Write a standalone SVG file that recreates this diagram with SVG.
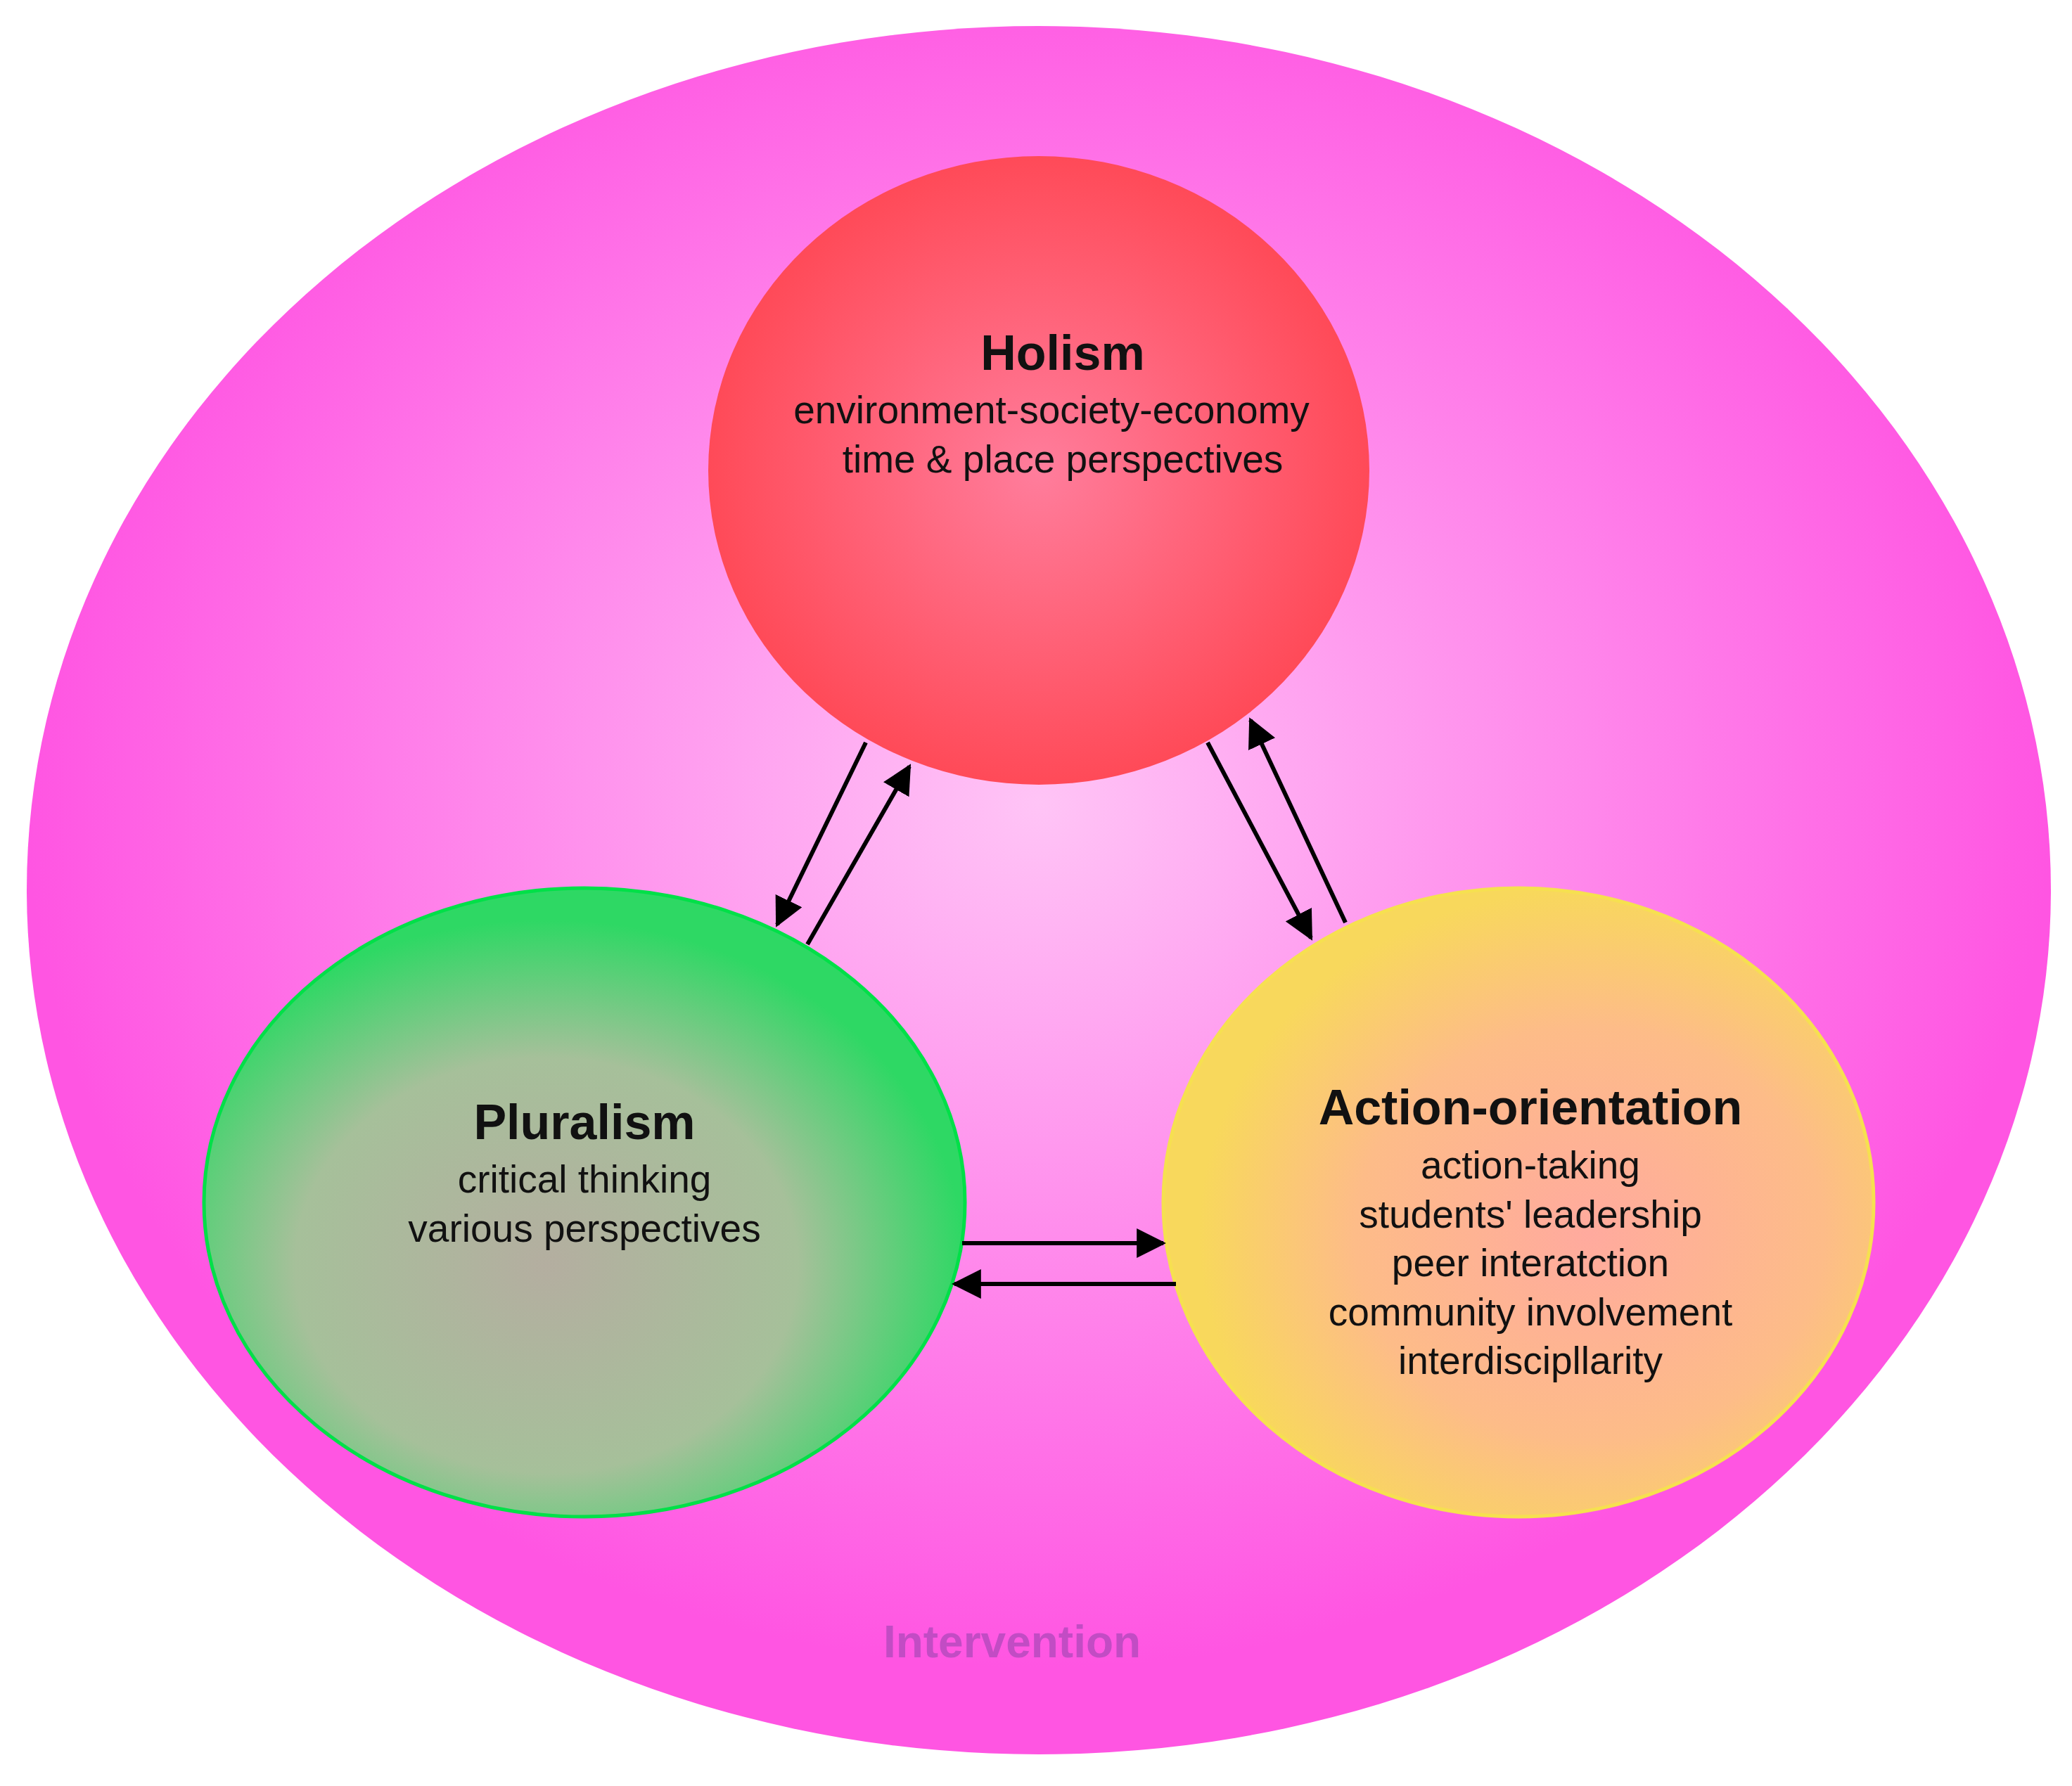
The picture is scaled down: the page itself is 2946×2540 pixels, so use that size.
<svg xmlns="http://www.w3.org/2000/svg" width="2946" height="2540" viewBox="0 0 2946 2540">
<defs>
<radialGradient id="gOut" cx="0.5" cy="0.45" r="0.5"><stop offset="0" stop-color="#ffc4f6"/><stop offset="1" stop-color="#ff55e2"/></radialGradient>
<radialGradient id="gHol" cx="0.5" cy="0.5" r="0.5"><stop offset="0" stop-color="#ff7d9c"/><stop offset="1" stop-color="#ff4a58"/></radialGradient>
<radialGradient id="gPlu" cx="0.45" cy="0.6" r="0.55"><stop offset="0" stop-color="#b4aea0"/><stop offset="0.6" stop-color="#a6c09a"/><stop offset="1" stop-color="#2ed864"/></radialGradient>
<radialGradient id="gAct" cx="0.6" cy="0.55" r="0.55"><stop offset="0" stop-color="#ffaa9e"/><stop offset="0.6" stop-color="#fdbc88"/><stop offset="1" stop-color="#f8d85c"/></radialGradient>
<marker id="ah" viewBox="0 0 10 10" refX="9" refY="5" markerWidth="7" markerHeight="7" orient="auto" markerUnits="strokeWidth"><path d="M0,0 L10,5 L0,10 z" fill="#000"/></marker>
<style>
.t{font-family:"Liberation Sans",Arial,sans-serif;text-anchor:middle;fill:#111}
.h{font-size:70px;font-weight:bold}
.s{font-size:55px}
.c{stroke:#000;stroke-width:6;fill:none;marker-end:url(#ah)}
</style>
</defs>
<rect width="2946" height="2540" fill="#fff"/>
<g id="intervention">
<ellipse cx="1477" cy="1266" rx="1439" ry="1229" fill="url(#gOut)"/>
<text class="t" x="1439" y="2357" style="font-size:64px;font-weight:bold;fill:#c24cc4">Intervention</text>
</g>
<g id="holism">
<ellipse cx="1477" cy="669" rx="470" ry="447" fill="url(#gHol)"/>
<text class="t h" x="1511" y="526">Holism</text>
<text class="t s" x="1495" y="602">environment-society-economy</text>
<text class="t s" x="1511" y="672">time &amp; place perspectives</text>
</g>
<g id="pluralism">
<ellipse cx="831" cy="1710" rx="541" ry="447" fill="url(#gPlu)" stroke="#00e048" stroke-width="5"/>
<text class="t h" x="831" y="1620">Pluralism</text>
<text class="t s" x="831" y="1696">critical thinking</text>
<text class="t s" x="831" y="1766">various perspectives</text>
</g>
<g id="action">
<ellipse cx="2159" cy="1710" rx="505" ry="447" fill="url(#gAct)" stroke="#f6e050" stroke-width="5"/>
<text class="t h" x="2176" y="1599">Action-orientation</text>
<text class="t s" x="2176" y="1676">action-taking</text>
<text class="t s" x="2176" y="1746">students' leadership</text>
<text class="t s" x="2176" y="1815">peer interatction</text>
<text class="t s" x="2176" y="1885">community involvement</text>
<text class="t s" x="2176" y="1954">interdiscipllarity</text>
</g>
<g id="connectors">
<line class="c" x1="1231" y1="1056" x2="1105" y2="1315"/>
<line class="c" x1="1148" y1="1343" x2="1293" y2="1090"/>
<line class="c" x1="1717" y1="1056" x2="1864" y2="1334"/>
<line class="c" x1="1913" y1="1312" x2="1778" y2="1024"/>
<line class="c" x1="1368" y1="1768" x2="1654" y2="1768"/>
<line class="c" x1="1672" y1="1826" x2="1357" y2="1826"/>
</g>
</svg>
